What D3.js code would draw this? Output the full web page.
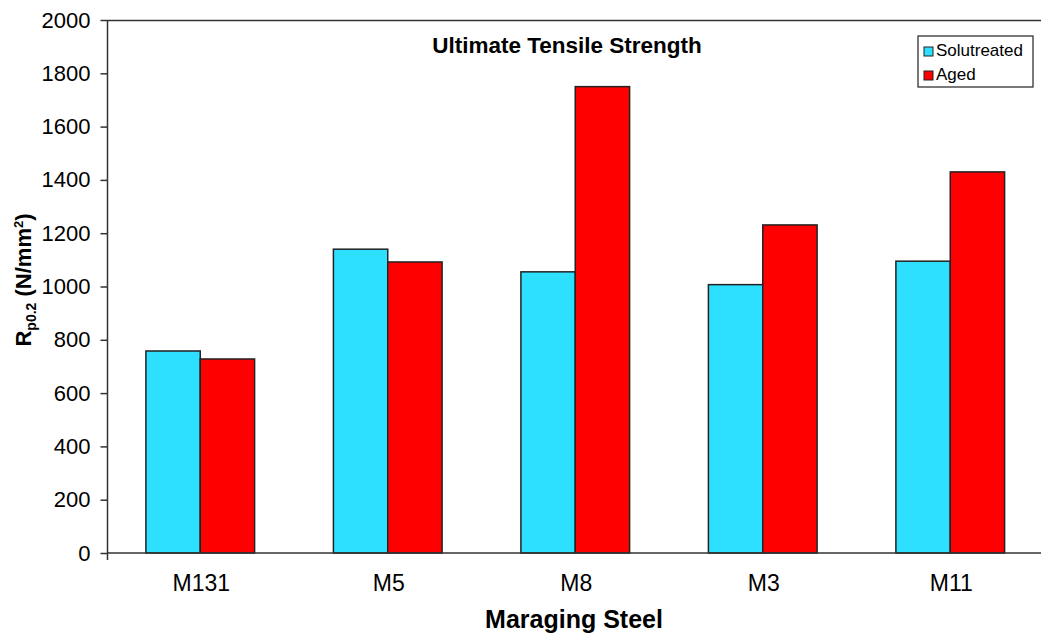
<!DOCTYPE html>
<html><head><meta charset="utf-8">
<script src="https://cdn.jsdelivr.net/npm/d3@7"></script>
<style>body{margin:0;background:#fff}svg{display:block;font-family:"Liberation Sans",Arial,sans-serif}</style>
</head><body>
<svg id="c" width="1041" height="634"></svg>
<script>
const categories = ["M131","M5","M8","M3","M11"];
const seriesNames = ["Solutreated","Aged"];
const solutreated = [758,1140,1055,1007,1095];
const aged = [728,1092,1750,1231,1430];
const yTicks = [0,200,400,600,800,1000,1200,1400,1600,1800,2000];
const colors = ["#2EE0FF","#FF0000"];

const svg = d3.select("#c");
const L = 107.5, R = 1045, T = 20, B = 553;
const x = d3.scaleBand().domain(categories).range([L,R]).padding(0);
const y = d3.scaleLinear().domain([0,2000]).range([B,T]);
const bw = x.bandwidth()/3.45;
const xs = d3.scaleBand().domain(seriesNames).range([-bw, bw]);

// top border
svg.append("line").attr("x1",L).attr("x2",R).attr("y1",T+0.5).attr("y2",T+0.5).attr("stroke","#333").attr("stroke-width",1.5);

const data = categories.map((c,i)=>({c, vals:[solutreated[i], aged[i]]}));
const g = svg.append("g");
data.forEach(d=>{
  d.vals.forEach((v,j)=>{
    g.append("rect")
      .attr("x", x(d.c)+x.bandwidth()/2 - 1 + xs(seriesNames[j]))
      .attr("y", y(v))
      .attr("width", xs.bandwidth())
      .attr("height", y(0)-y(v))
      .attr("fill", colors[j]).attr("stroke","#222").attr("stroke-width",1.5);
  });
});

// y axis
const ya = svg.append("g").attr("transform",`translate(${L},0)`)
  .call(d3.axisLeft(y).tickValues(yTicks).tickSize(7).tickPadding(10).tickFormat(d3.format("d")));
ya.select(".domain").remove();
ya.selectAll("line").attr("stroke","#333").attr("stroke-width",1.5);
ya.selectAll("text").attr("font-size",22).attr("fill","#000").attr("font-family","Liberation Sans, Arial, sans-serif");
svg.append("line").attr("x1",L).attr("x2",L).attr("y1",T).attr("y2",B+7).attr("stroke","#333").attr("stroke-width",1.5);

// x axis
svg.append("line").attr("x1",L).attr("x2",R).attr("y1",B).attr("y2",B).attr("stroke","#333").attr("stroke-width",1.5);
const xa = svg.append("g").attr("transform",`translate(0,${B})`)
  .call(d3.axisBottom(x).tickSize(0).tickPadding(22));
xa.select(".domain").remove();
xa.selectAll("text").attr("font-size",23).attr("fill","#000").attr("font-family","Liberation Sans, Arial, sans-serif");

// titles
svg.append("text").attr("x",567).attr("y",53).attr("text-anchor","middle")
  .attr("font-size",22.5).attr("font-weight","bold").text("Ultimate Tensile Strength");
svg.append("text").attr("x",574).attr("y",628).attr("text-anchor","middle")
  .attr("font-size",25).attr("font-weight","bold").text("Maraging Steel");
const yt = svg.append("text").attr("transform","translate(31,280) rotate(-90)").attr("text-anchor","middle")
  .attr("font-size",22).attr("font-weight","bold");
yt.append("tspan").text("R");
yt.append("tspan").attr("font-size",14).attr("dy",5).text("p0.2");
yt.append("tspan").attr("dy",-5).text(" (N/mm");
yt.append("tspan").attr("font-size",13).attr("dy",-8).text("2");
yt.append("tspan").attr("dy",8).text(")");

// legend
const lg = svg.append("g").attr("transform","translate(918,36)");
lg.append("rect").attr("width",115).attr("height",51).attr("fill","#fff").attr("stroke","#222").attr("stroke-width",1.2);
seriesNames.forEach((s,i)=>{
  lg.append("rect").attr("x",6).attr("y",11+i*24).attr("width",9).attr("height",9)
    .attr("fill",colors[i]).attr("stroke","#222").attr("stroke-width",1);
  lg.append("text").attr("x",18).attr("y",20+i*24).attr("font-size",17).text(s);
});
</script>
</body></html>
